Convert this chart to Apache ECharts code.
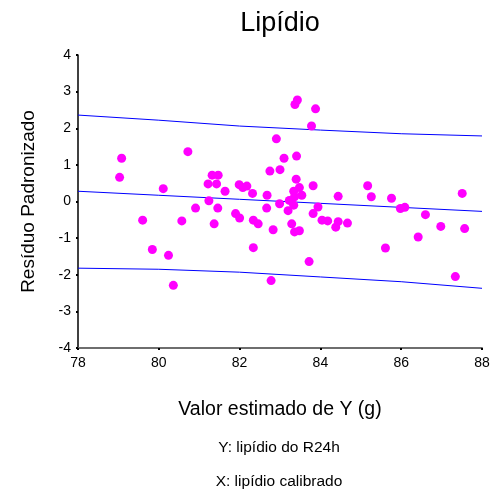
<!DOCTYPE html>
<html>
<head>
<meta charset="utf-8">
<script src="https://cdn.jsdelivr.net/npm/echarts@6/dist/echarts.min.js"></script>
<style>html,body{margin:0;padding:0;background:#fff}#c{width:496px;height:493px}</style>
</head>
<body>
<div id="c"></div>
<script>
var xTicks = [78, 80, 82, 84, 86, 88];
var yTicks = [-4, -3, -2, -1, 0, 1, 2, 3, 4];

var pointsX = [79.08, 79.03, 80.72, 80.11, 81.32, 81.47, 81.22, 81.43, 81.64, 81.99,
  82.08, 82.18, 82.32, 82.68, 82.91, 82.75, 83.00, 83.43, 83.37, 83.88,
  83.78, 83.10, 83.41, 83.40, 83.48, 83.34, 83.82, 85.17, 83.54, 83.36,
  84.44, 85.26, 85.76, 87.51, 81.24, 80.91, 81.46, 82.99, 82.67, 81.90,
  82.00, 79.60, 80.57, 81.37, 82.34, 82.46, 82.83, 79.84, 80.24, 82.34,
  80.36, 82.78, 83.23, 83.34, 83.94, 83.20, 83.82, 85.98, 86.09, 86.60,
  84.04, 84.18, 84.44, 84.38, 84.67, 83.29, 83.36, 83.48, 86.98, 87.57,
  86.42, 85.61, 83.72, 87.34];
var pointsY = [1.18, 0.66, 1.36, 0.35, 0.72, 0.72, 0.48, 0.48, 0.28, 0.46,
  0.38, 0.42, 0.22, 0.17, 1.71, 0.83, 0.87, 2.77, 2.65, 2.53,
  2.06, 1.18, 1.24, 0.61, 0.38, 0.28, 0.43, 0.43, 0.17, 0.13,
  0.14, 0.13, 0.09, 0.22, 0.02, -0.18, -0.18, -0.06, -0.18, -0.33,
  -0.45, -0.51, -0.53, -0.61, -0.51, -0.61, -0.77, -1.31, -1.47, -1.26,
  -2.29, -2.16, 0.03, -0.10, -0.15, -0.25, -0.33, -0.19, -0.16, -0.36,
  -0.51, -0.53, -0.55, -0.70, -0.59, -0.61, -0.83, -0.80, -0.68, -0.74,
  -0.97, -1.27, -1.64, -2.05];

var lineX = [78, 80, 82, 84, 86, 88];
var upperY = [2.36, 2.22, 2.06, 1.95, 1.85, 1.79];
var fitY = [0.28, 0.17, 0.06, -0.05, -0.16, -0.27];
var lowerY = [-1.82, -1.85, -1.93, -2.06, -2.19, -2.37];

function zip(a, b) { return a.map(function (v, i) { return [v, b[i]]; }); }

var font = 'Liberation Sans, Arial, sans-serif';
var chart = echarts.init(document.getElementById('c'), null, {renderer: 'canvas'});
var lineStyle = {color: '#0000ff', width: 1};
chart.setOption({
  animation: false,
  backgroundColor: '#ffffff',
  graphic: [
    {type: 'text', x: 280, y: 10, style: {text: 'Lipídio', fontFamily: font, fontSize: 27, fill: '#000', textAlign: 'center', textVerticalAlign: 'top'}},
    {type: 'text', x: 279, y: 440, style: {text: 'Y: lipídio do R24h', fontFamily: font, fontSize: 15.5, fill: '#000', textAlign: 'center', textVerticalAlign: 'top'}},
    {type: 'text', x: 279, y: 474, style: {text: 'X: lipídio calibrado', fontFamily: font, fontSize: 15.5, fill: '#000', textAlign: 'center', textVerticalAlign: 'top'}}
  ],
  grid: {left: 78, right: 14, top: 55, bottom: 145, containLabel: false},
  xAxis: {
    type: 'value', min: 78, max: 88, interval: 2,
    name: 'Valor estimado de Y (g)', nameLocation: 'middle', nameGap: 52,
    nameTextStyle: {fontFamily: font, fontSize: 19.5, color: '#000'},
    axisLine: {show: true, onZero: false, lineStyle: {color: '#6e6e6e', width: 2}},
    axisTick: {show: true, length: 2, lineStyle: {color: '#000', width: 2}},
    axisLabel: {fontFamily: font, fontSize: 14, color: '#000', margin: 8},
    splitLine: {show: false}
  },
  yAxis: {
    type: 'value', min: -4, max: 4, interval: 1,
    name: 'Resíduo Padronizado', nameLocation: 'middle', nameGap: 40,
    nameTextStyle: {fontFamily: font, fontSize: 19, color: '#000'},
    axisLine: {show: true, onZero: false, lineStyle: {color: '#000', width: 1.5}},
    axisTick: {show: true, length: 2, lineStyle: {color: '#000', width: 2}},
    axisLabel: {fontFamily: font, fontSize: 14, color: '#000', margin: 7},
    splitLine: {show: false}
  },
  series: [
    {type: 'line', data: zip(lineX, upperY), showSymbol: false, lineStyle: lineStyle, z: 1},
    {type: 'line', data: zip(lineX, fitY), showSymbol: false, lineStyle: lineStyle, z: 1},
    {type: 'line', data: zip(lineX, lowerY), showSymbol: false, lineStyle: lineStyle, z: 1},
    {type: 'scatter', data: zip(pointsX, pointsY), symbolSize: 9,
      itemStyle: {color: '#ff00ff', opacity: 1}, z: 3}
  ]
});
</script>
</body>
</html>
